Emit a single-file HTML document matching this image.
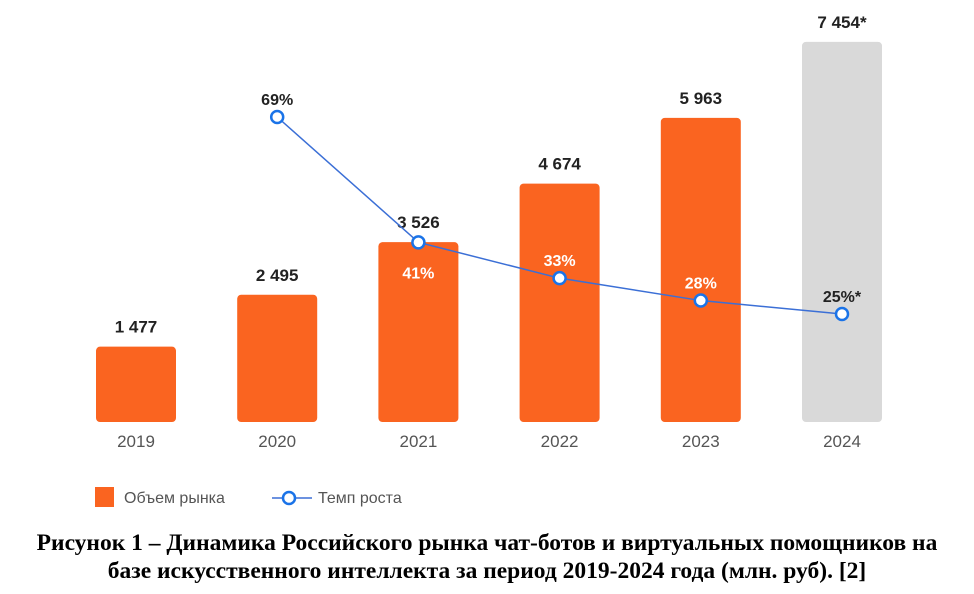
<!DOCTYPE html>
<html><head><meta charset="utf-8"><style>
body{margin:0;background:#fff;width:974px;height:594px;overflow:hidden}
svg{display:block}
.cap{position:absolute;left:0;width:974px;text-align:center;font-family:"Liberation Serif",serif;font-size:23.5px;font-weight:bold;line-height:27px;color:#000;white-space:nowrap}
</style></head><body>
<svg id="chart" width="974" height="525" style="position:absolute;left:0;top:0" font-family="Liberation Sans, DejaVu Sans, sans-serif"></svg>
<div class="cap" style="top:530px">Рисунок 1 – Динамика Российского рынка чат-ботов и виртуальных помощников на</div>
<div class="cap" style="top:558px">базе искусственного интеллекта за период 2019-2024 года (млн. руб). [2]</div>
<script>
const years=["2019","2020","2021","2022","2023","2024"];
const volumes=[1477,2495,3526,4674,5963,7454];
const volumeLabels=["1 477","2 495","3 526","4 674","5 963","7 454*"];
const growthYears=["2020","2021","2022","2023","2024"];
const growth=[69,41,33,28,25];
const growthLabels=["69%","41%","33%","28%","25%*"];
const svg=document.getElementById('chart');
const NS="http://www.w3.org/2000/svg";
function mk(t,a){const e=document.createElementNS(NS,t);for(const k in a)e.setAttribute(k,a[k]);svg.appendChild(e);return e;}
const x0=136,step=141.2,bw=80,base=422,k=0.051;
const xs=i=>x0+i*step;
const yv=v=>base-v*k;
const yg=p=>117+(69-p)*4.477;
years.forEach((y,i)=>{
 const h=volumes[i]*k;
 const r=mk('rect',{x:xs(i)-bw/2,y:yv(volumes[i]),width:bw,height:h,rx:4,fill:i==5?'#d9d9d9':'#fa6420'});
 
 
 const t=mk('text',{x:xs(i),y:yv(volumes[i])-14,'text-anchor':'middle','font-size':17,'font-weight':'bold',fill:'#222'});
 t.textContent=volumeLabels[i];
 
 
 const yl=mk('text',{x:xs(i),y:447,'text-anchor':'middle','font-size':17,fill:'#555'});
 yl.textContent=y;
 
 
});
const pts=growth.map((g,j)=>[xs(years.indexOf(growthYears[j])),yg(g)]);
const ln=mk('polyline',{points:pts.map(p=>p.join(',')).join(' '),fill:'none',stroke:'#3b6fd6','stroke-width':1.5});


pts.forEach((p,j)=>{
 const c=mk('circle',{cx:p[0],cy:p[1],r:6,fill:'#fff',stroke:'#1a73e8','stroke-width':2.5});
 
 
 const inside=j>=1&&j<=3;
 const dy=j==1?30:-18;
 const t=mk('text',{x:p[0],y:p[1]+dy+6,'text-anchor':'middle','font-size':16,'font-weight':'bold',fill:inside?'#fff':'#222'});
 t.textContent=growthLabels[j];
 
 
});
let e=mk('rect',{x:95,y:487,width:19,height:20,fill:'#fa6420'});

e=mk('text',{x:124,y:503,'font-size':16,fill:'#555'});e.textContent='Объем рынка';

e=mk('line',{x1:272,y1:498,x2:312,y2:498,stroke:'#3b6fd6','stroke-width':1.5});

e=mk('circle',{cx:289,cy:498,r:6,fill:'#fff',stroke:'#1a73e8','stroke-width':2.5});

e=mk('text',{x:318,y:503,'font-size':16,fill:'#555'});e.textContent='Темп роста';

</script>
</body></html>
